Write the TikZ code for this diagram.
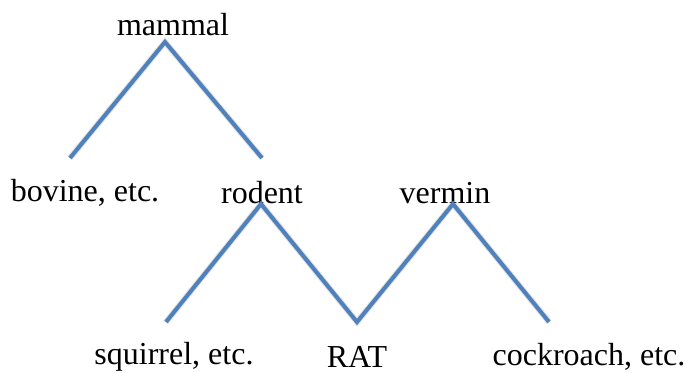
\documentclass[tikz,border=0pt]{standalone}
\usepackage{fontspec}
\setmainfont{Liberation Serif}
\begin{document}
\begin{tikzpicture}[x=0.5pt,y=-0.5pt,
  lbl/.style={font=\fontsize{16}{19}\selectfont, inner sep=0pt, anchor=center},
  branch/.style={draw={rgb,255:red,79;green,129;blue,189}, line width=2pt, line cap=butt, line join=miter},
  shadowline/.style={draw=black, opacity=0.12, line width=3pt, line join=miter}]
\useasboundingbox (0,0) rectangle (687,373);
% labels
\node[lbl] (mammal) at (173,25) {mammal};
\node[lbl] (bovine) at (85,193) {bovine, etc.};
\node[lbl] (rodent) at (262,193) {rodent};
\node[lbl] (vermin) at (445,193) {vermin};
\node[lbl] (squirrel) at (174,357) {squirrel, etc.};
\node[lbl] (rat) at (357,357) {RAT};
\node[lbl] (cockroach) at (589,357) {cockroach, etc.};
% branch points
\coordinate (a1) at (165,42);
\coordinate (b1) at (70,158);
\coordinate (b2) at (262,158);
\coordinate (a2) at (261,204);
\coordinate (c1) at (166,322);
\coordinate (c2) at (357,322);
\coordinate (a3) at (453,204);
\coordinate (c3) at (549,322);
% shadows
\begin{scope}[shift={(2,4)}]
\draw[shadowline] (b1) -- (a1) -- (b2);
\draw[shadowline] (c1) -- (a2) -- (c2) -- (a3) -- (c3);
\end{scope}
% lines
\draw[branch] (b1) -- (a1) -- (b2);
\draw[branch] (c1) -- (a2) -- (c2) -- (a3) -- (c3);
\end{tikzpicture}
\end{document}
